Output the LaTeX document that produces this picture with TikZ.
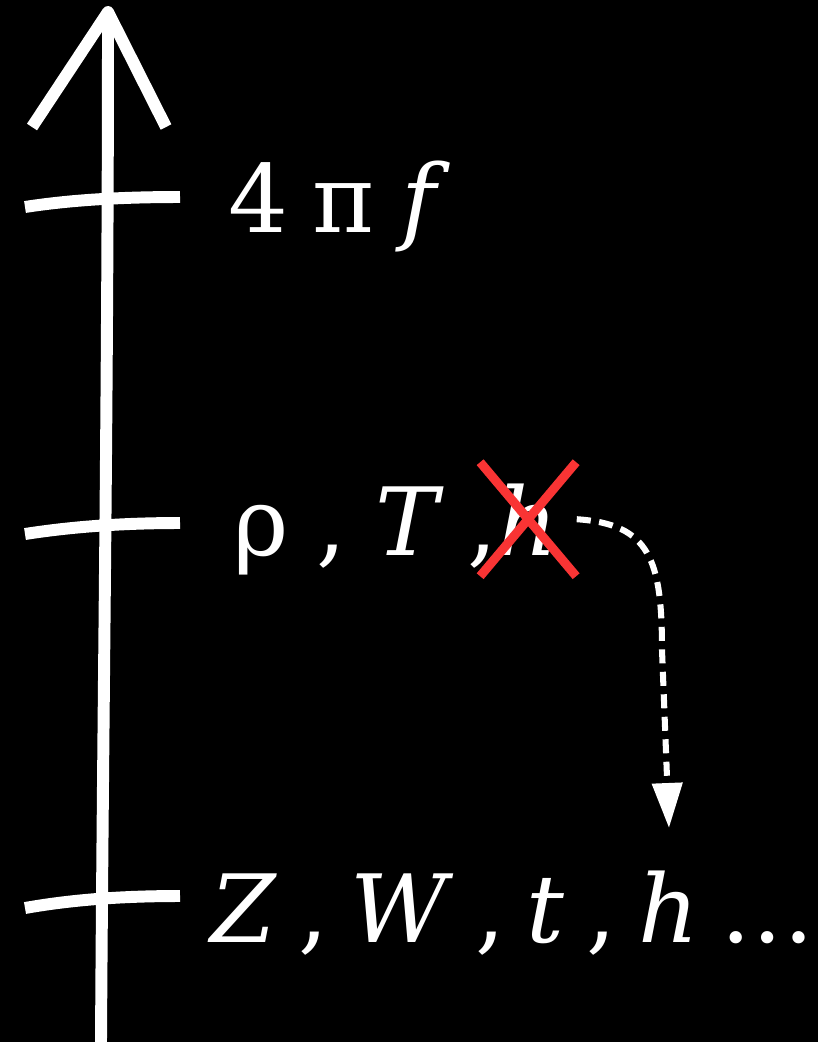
\documentclass[tikz,border=0pt]{standalone}
\usepackage{fontspec}
\setmainfont{DejaVu Serif}
\usepackage{xcolor}
\definecolor{chalk}{HTML}{FFFFFF}
\definecolor{crossred}{HTML}{F93434}
\usepackage{tikz}
\usetikzlibrary{arrows.meta, positioning, calc}
\newcommand{\vgap}[1][0.23em]{\hspace{#1}}

\begin{document}
\begin{tikzpicture}[
  x=0.025cm, y=-0.025cm,
  stroke/.style={draw=chalk, line width=8.5pt},
  lbl/.style={text=chalk, inner sep=0pt, anchor=base west,
    font=\fontsize{67}{80}\selectfont},
  crossline/.style={draw=crossred, line width=6.4pt},
  moveto/.style={draw=chalk, line width=4.3pt, dash pattern=on 10pt off 6pt,
    -{Triangle[length=32pt, width=21pt]}},
]
  % background and frame
  \fill[black] (0,0) rectangle (818,1042);
  \useasboundingbox (0,0) rectangle (818,1042);

  % scale axis
  \draw[stroke] (101,1042) .. controls (103,700) and (108,400) .. (108,12);
  \draw[stroke, line join=round] (32,127) -- (108,12) -- (166,127);

  % ticks
  \draw[stroke] (25,207) .. controls (70,200) and (120,197) .. (180,197);
  \draw[stroke] (25,534) .. controls (70,527) and (120,523) .. (180,523);
  \draw[stroke] (25,908) .. controls (70,900) and (120,896) .. (180,896);

  % labels
  \node[lbl] (large) at (228,232) {4\vgap[0.26em]π\vgap[0.28em]\textit{f}};
  \node[lbl] (mid)   at (233,555) {ρ\vgap[0.3em],\vgap[0.3em]\textit{T}\vgap[0.25em],\vgap[0.55em]};
  \node[lbl, right=0pt of mid.base east, anchor=base west] (hx) {\textit{h}};
  \node[lbl] (small) at (210,942) {\textit{Z}\vgap,\vgap\textit{W}\vgap,\vgap\textit{t}\vgap,\vgap\textit{h}\vgap…};

  % crossed-out h
  \draw[crossline] ($(hx.center)+(-48,-57)$) -- ($(hx.center)+(48,57)$);
  \draw[crossline] ($(hx.center)+(48,-57)$) -- ($(hx.center)+(-48,57)$);

  % h moves down
  \coordinate (drop) at (669,828);
  \draw[moveto] ($(hx.east)+(18,0)$) .. controls (650,524) and (662,560) .. (662,650) -- (drop);
\end{tikzpicture}
\end{document}
